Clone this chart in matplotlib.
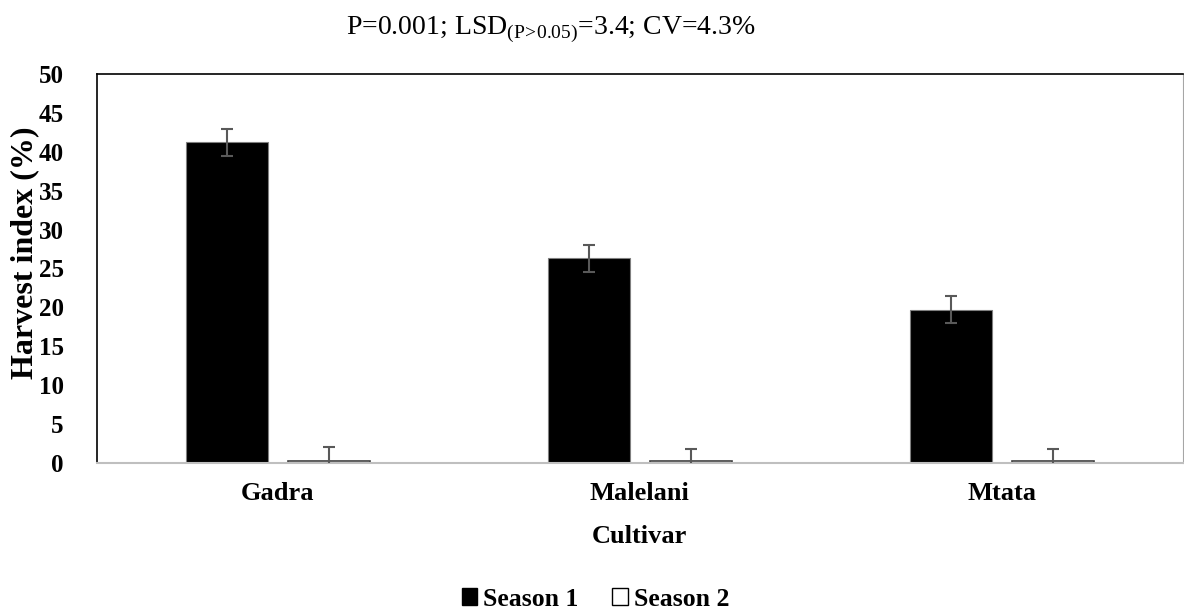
import matplotlib
matplotlib.use("Agg")
import matplotlib.pyplot as plt
import numpy as np
from matplotlib.patches import Patch

cultivars = ["Gadra", "Malelani", "Mtata"]
season1 = [41.2, 26.3, 19.7]
season1_err = [1.7, 1.7, 1.7]
season2 = [0.3, 0.2, 0.2]
season2_err = [1.7, 1.6, 1.6]
yticks = [0, 5, 10, 15, 20, 25, 30, 35, 40, 45, 50]

plt.rcParams['font.family'] = ['Liberation Serif', 'DejaVu Serif']
plt.rcParams['mathtext.fontset'] = 'custom'
plt.rcParams['mathtext.rm'] = 'Liberation Serif'

fig = plt.figure(figsize=(11.84, 6.15), dpi=100)
ax = fig.add_axes([0.0819, 0.2472, 0.9171, 0.6325])

x = np.arange(len(cultivars))
w = 0.227
off = 0.141
ax.bar(x - off, season1, width=w, color='black', edgecolor='#7f7f7f', linewidth=0.8, zorder=2)
ax.bar(x + off, season2, width=w, color='white', edgecolor='#404040', linewidth=1.2, zorder=2)
ax.errorbar(x - off, season1, yerr=season1_err, fmt='none', ecolor='#595959', elinewidth=1.5, capsize=4.5, capthick=1.5, zorder=3)
ax.errorbar(x + off, season2, yerr=season2_err, fmt='none', ecolor='#595959', elinewidth=1.5, capsize=4.5, capthick=1.5, zorder=3)

ax.set_xlim(-0.5, 2.5)
ax.set_ylim(0, 50)
ax.set_yticks(yticks)
ax.set_yticklabels([str(t) for t in yticks], fontsize=18, fontweight='bold')
ax.set_xticks(x)
ax.set_xticklabels(cultivars, fontsize=19, fontweight='bold')
ax.tick_params(axis='both', length=0)
ax.tick_params(axis='y', pad=24)
ax.tick_params(axis='x', pad=14)

ax.spines['left'].set_color('black')
ax.spines['top'].set_color('black')
ax.spines['left'].set_linewidth(1.2)
ax.spines['top'].set_linewidth(1.2)
ax.spines['right'].set_color('#a6a6a6')
ax.spines['bottom'].set_color('#bfbfbf')
ax.spines['bottom'].set_linewidth(1.5)

ax.set_ylabel("Harvest index (%)", fontsize=23, fontweight='bold')
ax.yaxis.set_label_coords(-0.0535, 0.54)
ax.set_xlabel("Cultivar", fontsize=19, fontweight='bold', labelpad=14)

fig.text(0.465, 0.952, r"P=0.001; LSD$_{\mathrm{(P\!>\!0.05)}}$=3.4; CV=4.3%", ha='center', va='center', fontsize=20)

handles = [Patch(facecolor='black', edgecolor='black', label='Season 1'),
           Patch(facecolor='white', edgecolor='black', label='Season 2')]
fig.legend(handles=handles, loc='center', bbox_to_anchor=(0.503, 0.026), ncol=2, frameon=False,
           prop={'weight': 'bold', 'size': 18.5}, handlelength=0.6, handleheight=0.6,
           handletextpad=0.25, columnspacing=1.3, borderpad=0)

fig.savefig("out.png", dpi=100)
